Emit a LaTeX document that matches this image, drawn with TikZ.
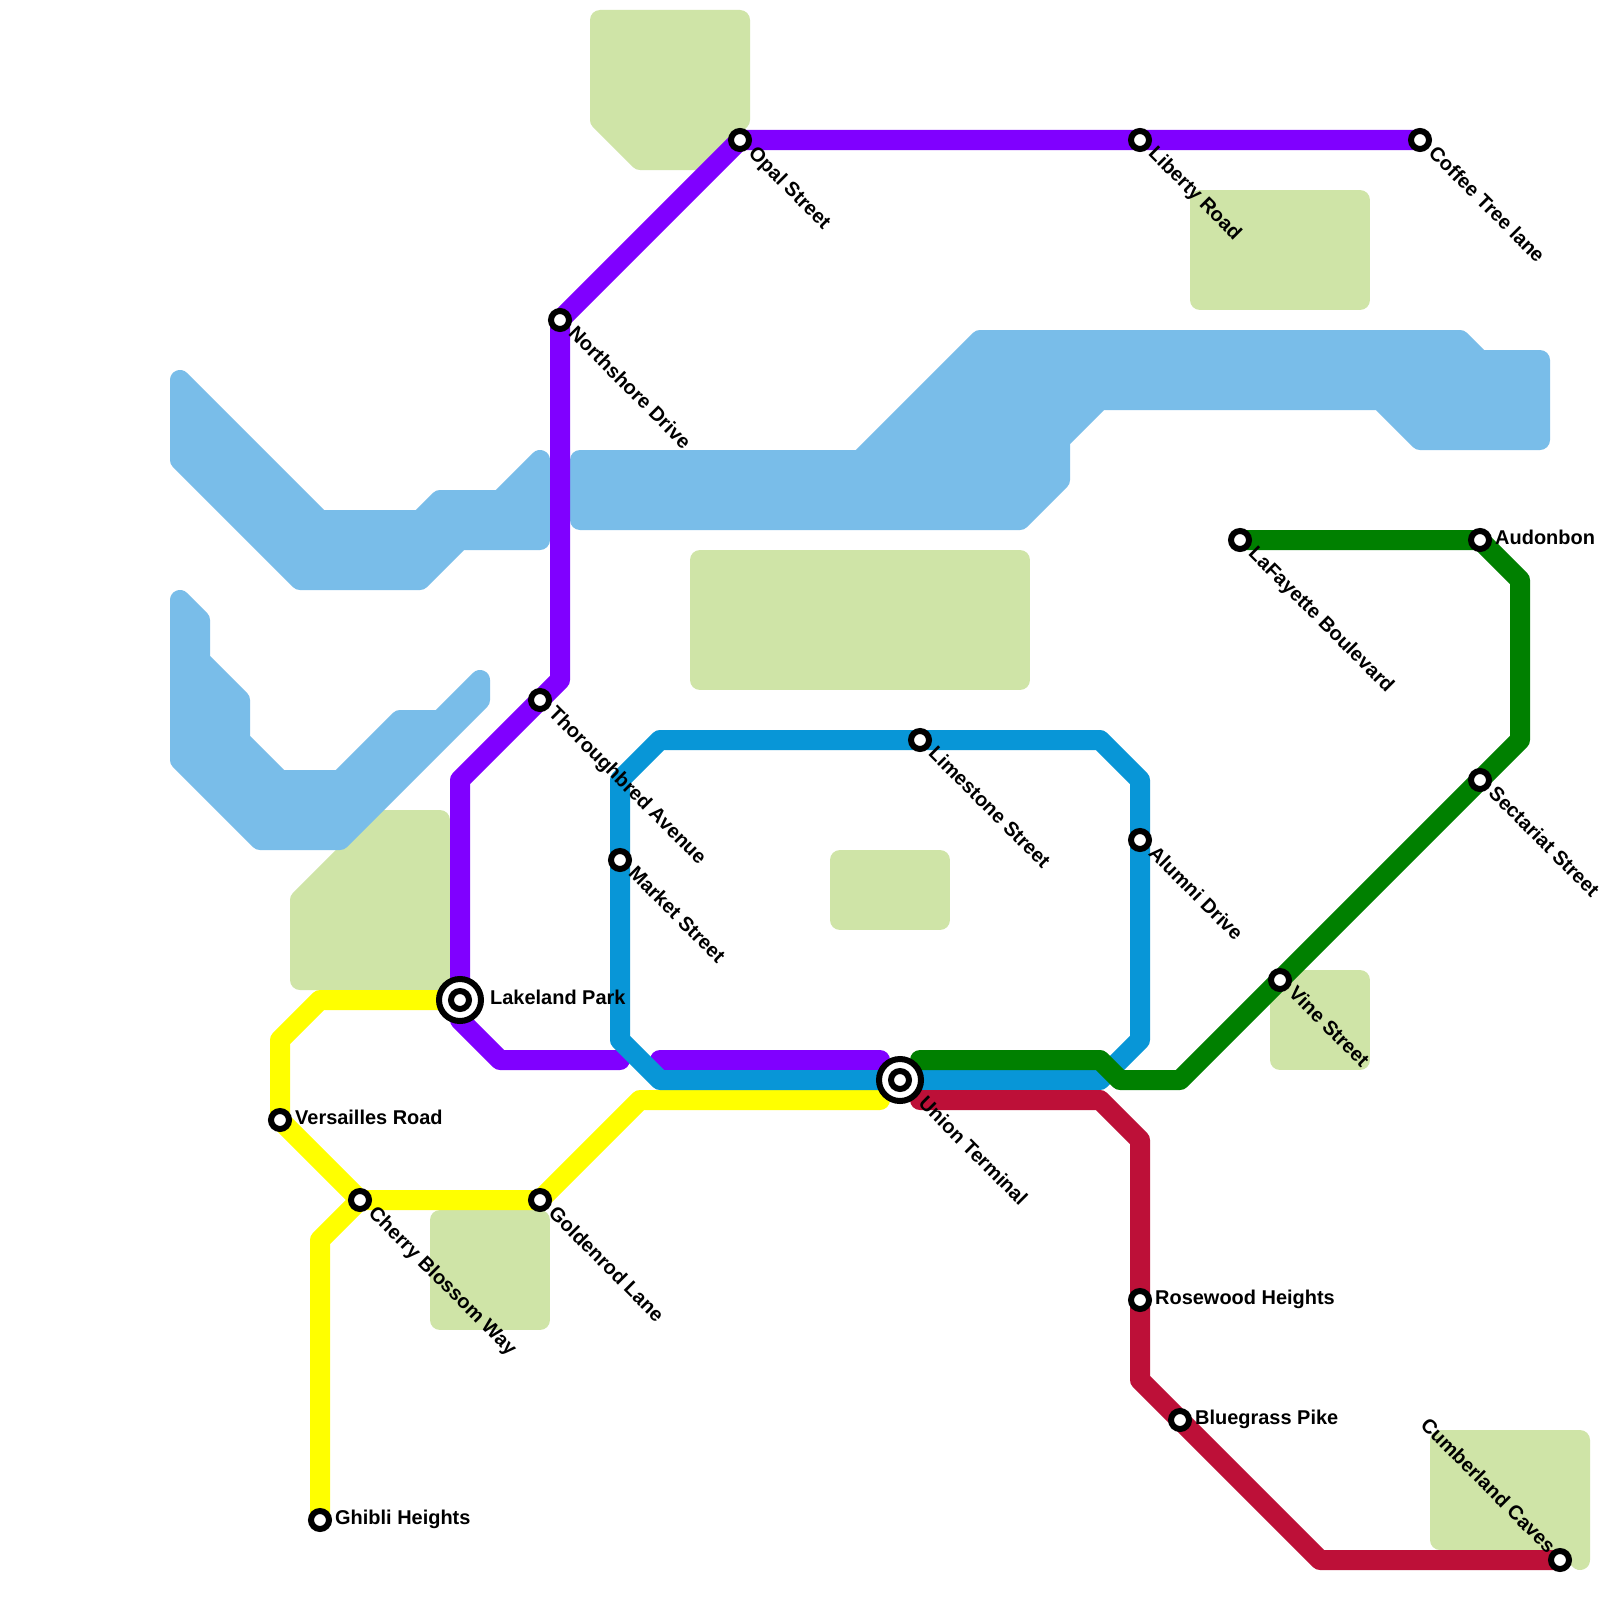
\documentclass[tikz,border=0pt]{standalone}
\usepackage{fontspec}
\setmainfont{Liberation Sans}
\definecolor{water}{HTML}{79BDE9}
\definecolor{park}{HTML}{CFE4A7}
\definecolor{lpurple}{HTML}{8000FF}
\definecolor{lyellow}{HTML}{FFFF00}
\definecolor{lblue}{HTML}{0896D7}
\definecolor{lgreen}{HTML}{008000}
\definecolor{lred}{HTML}{BD1038}
\tikzset{
  waterarea/.style={draw=water,fill=water,line width=20pt,line join=round},
  parkarea/.style={draw=park,fill=park,line width=20pt,line join=round},
  railline/.style={line width=20pt,line join=round,line cap=round},
  stn/.style={circle,draw=black,fill=white,line width=6pt,minimum size=18pt,inner sep=0pt,outer sep=0pt},
  hub/.style={circle,draw=black,fill=white,line width=6pt,minimum size=42pt,inner sep=0pt,outer sep=0pt},
  lbl/.style={font=\bfseries\fontsize{19.95}{24}\selectfont,text=black,inner sep=0pt,text height=14pt,text depth=4pt},
  lblh/.style={lbl,anchor=west},
  lbld/.style={lbl,anchor=west,rotate=-45},
  lblu/.style={lbl,anchor=east,rotate=-45}
}
\begin{document}
\begin{tikzpicture}[x=1pt,y=-1pt]
\fill[white] (0,0) rectangle (1600,1600);
\useasboundingbox (0,0) rectangle (1600,1600);
% station positions
\coordinate (opal) at (740,140);
\coordinate (liberty) at (1140,140);
\coordinate (coffee) at (1420,140);
\coordinate (northshore) at (560,320);
\coordinate (thoroughbred) at (540,700);
\coordinate (limestone) at (920,740);
\coordinate (market) at (620,860);
\coordinate (alumni) at (1140,840);
\coordinate (lakeland) at (460,1000);
\coordinate (versailles) at (280,1120);
\coordinate (cherry) at (360,1200);
\coordinate (goldenrod) at (540,1200);
\coordinate (union) at (900,1080);
\coordinate (rosewood) at (1140,1300);
\coordinate (bluegrass) at (1180,1420);
\coordinate (ghibli) at (320,1520);
\coordinate (cumberland) at (1560,1560);
\coordinate (lafayette) at (1240,540);
\coordinate (audonbon) at (1480,540);
\coordinate (sectariat) at (1480,780);
\coordinate (vine) at (1280,980);
% parks
\draw[parkarea] (600,20) -- (740,20) -- (740,120) -- (700,160) -- (640,160) -- (600,120) -- cycle;
\draw[parkarea] (1200,200) -- (1360,200) -- (1360,300) -- (1200,300) -- cycle;
\draw[parkarea] (700,560) -- (1020,560) -- (1020,680) -- (700,680) -- cycle;
\draw[parkarea] (840,860) -- (940,860) -- (940,920) -- (840,920) -- cycle;
\draw[parkarea] (300,900) -- (380,820) -- (440,820) -- (440,980) -- (300,980) -- cycle;
\draw[parkarea] (440,1220) -- (540,1220) -- (540,1320) -- (440,1320) -- cycle;
\draw[parkarea] (1280,980) -- (1360,980) -- (1360,1060) -- (1280,1060) -- cycle;
\draw[parkarea] (1440,1440) -- (1580,1440) -- (1580,1560) -- (1560,1540) -- (1440,1540) -- cycle;
% water
\draw[waterarea] (180,380) -- (320,520) -- (420,520) -- (440,500) -- (500,500) -- (540,460) -- (540,540) -- (460,540) -- (420,580) -- (300,580) -- (180,460) -- cycle;
\draw[waterarea] (180,600) -- (200,620) -- (200,660) -- (240,700) -- (240,740) -- (280,780) -- (340,780) -- (400,720) -- (440,720) -- (480,680) -- (480,700) -- (340,840) -- (260,840) -- (180,760) -- cycle;
\draw[waterarea] (580,460) -- (860,460) -- (980,340) -- (1460,340) -- (1480,360) -- (1540,360) -- (1540,440) -- (1420,440) -- (1380,400) -- (1100,400) -- (1060,440) -- (1060,480) -- (1020,520) -- (580,520) -- cycle;
% lines
\draw[railline,lpurple] (coffee) -- (liberty) -- (opal) -- (northshore) -- (560,680) -- (thoroughbred) -- (460,780) -- (lakeland) -- (460,1020) -- (500,1060) -- (620,1060);
\draw[railline,lpurple] (660,1060) -- (880,1060);
\draw[railline,lyellow] (ghibli) -- (320,1240) -- (cherry) -- (goldenrod) -- (640,1100) -- (880,1100);
\draw[railline,lyellow] (lakeland) -- (320,1000) -- (280,1040) -- (versailles) -- (cherry);
\draw[railline,lblue] (union) -- (660,1080) -- (620,1040) -- (market) -- (620,780) -- (660,740) -- (limestone) -- (1100,740) -- (1140,780) -- (alumni) -- (1140,1040) -- (1100,1080) -- (union);
\draw[railline,lgreen] (920,1060) -- (1100,1060) -- (1120,1080) -- (1180,1080) -- (vine) -- (sectariat) -- (1520,740) -- (1520,580) -- (audonbon) -- (lafayette);
\draw[railline,lred] (920,1100) -- (1100,1100) -- (1140,1140) -- (rosewood) -- (1140,1380) -- (bluegrass) -- (1320,1560) -- (cumberland);
% stations
\foreach \s in {opal,liberty,coffee,northshore,thoroughbred,limestone,market,alumni,versailles,cherry,goldenrod,rosewood,bluegrass,ghibli,cumberland,lafayette,audonbon,sectariat,vine}{
  \node[stn] (m\s) at (\s) {};
}
\node[hub] (hlakeland) at (lakeland) {};
\node[stn] (mlakeland) at (lakeland) {};
\node[hub] (hunion) at (union) {};
\node[stn] (munion) at (union) {};
% labels
\node[lbld] (topal) at ([shift={(11,11)}]opal) {Opal Street};
\node[lbld] (tliberty) at ([shift={(11,11)}]liberty) {Liberty Road};
\node[lbld] (tcoffee) at ([shift={(11,11)}]coffee) {Coffee Tree lane};
\node[lbld] (tnorthshore) at ([shift={(11,11)}]northshore) {Northshore Drive};
\node[lbld] (tthoroughbred) at ([shift={(11,11)}]thoroughbred) {Thoroughbred Avenue};
\node[lbld] (tlimestone) at ([shift={(11,11)}]limestone) {Limestone Street};
\node[lbld] (tmarket) at ([shift={(11,11)}]market) {Market Street};
\node[lbld] (talumni) at ([shift={(11,11)}]alumni) {Alumni Drive};
\node[lbld] (tcherry) at ([shift={(11,11)}]cherry) {Cherry Blossom Way};
\node[lbld] (tgoldenrod) at ([shift={(11,11)}]goldenrod) {Goldenrod Lane};
\node[lbld] (tunion) at ([shift={(21,21)}]union) {Union Terminal};
\node[lbld] (tlafayette) at ([shift={(11,11)}]lafayette) {LaFayette Boulevard};
\node[lbld] (tsectariat) at ([shift={(11,11)}]sectariat) {Sectariat Street};
\node[lbld] (tvine) at ([shift={(11,11)}]vine) {Vine Street};
\node[lblu] (tcumberland) at ([shift={(-9,-9)}]cumberland) {Cumberland Caves};
\node[lblh] (tlakeland) at ([shift={(30,-0.7)}]lakeland) {Lakeland Park};
\node[lblh] (tversailles) at ([shift={(15,-0.7)}]versailles) {Versailles Road};
\node[lblh] (trosewood) at ([shift={(15,-0.7)}]rosewood) {Rosewood Heights};
\node[lblh] (tbluegrass) at ([shift={(15,-0.7)}]bluegrass) {Bluegrass Pike};
\node[lblh] (tghibli) at ([shift={(15,-0.7)}]ghibli) {Ghibli Heights};
\node[lblh] (taudonbon) at ([shift={(15,-0.7)}]audonbon) {Audonbon};
\end{tikzpicture}
\end{document}
